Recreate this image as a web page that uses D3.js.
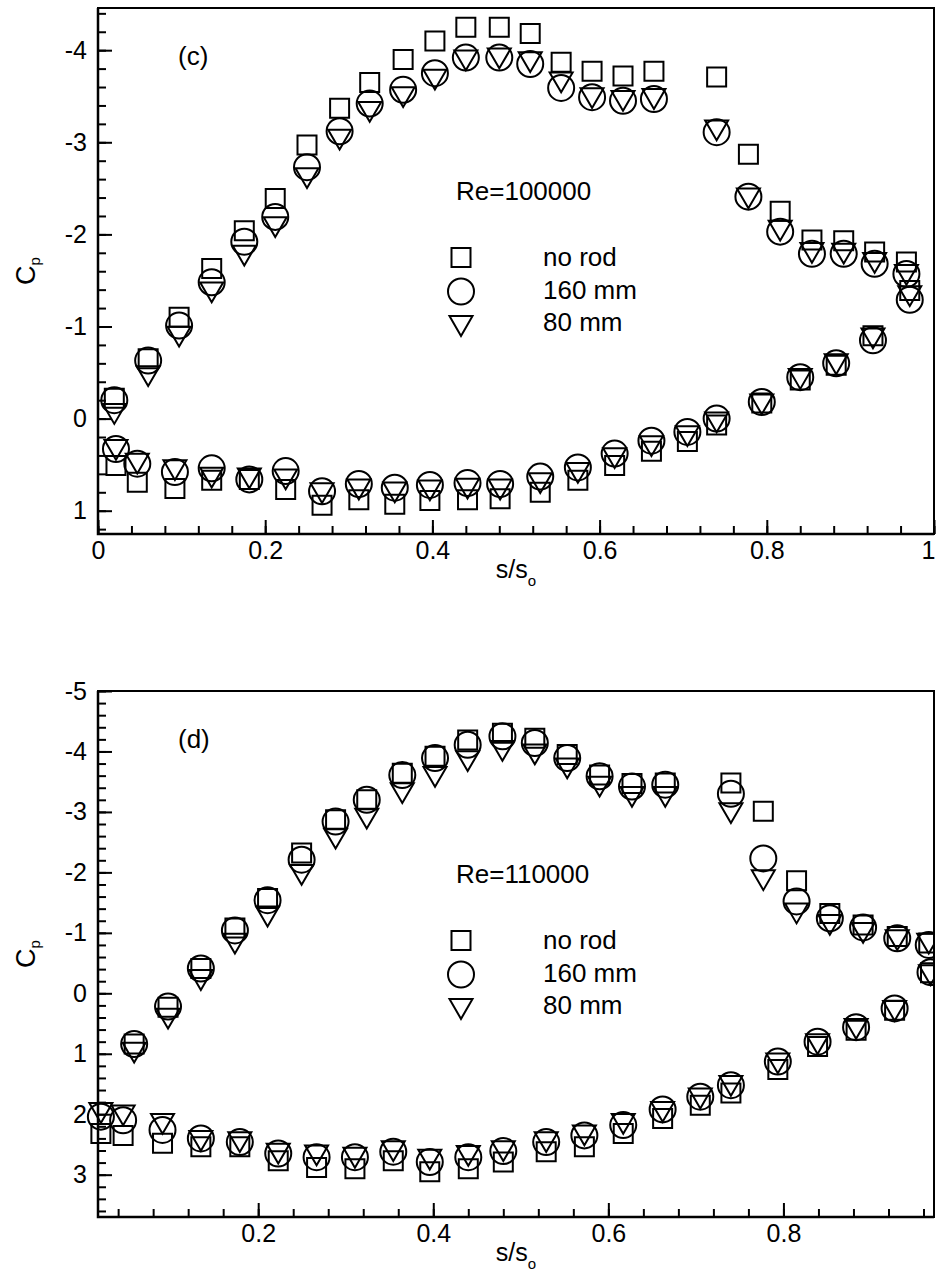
<!DOCTYPE html>
<html>
<head>
<meta charset="utf-8">
<script src="https://cdn.jsdelivr.net/npm/d3@7"></script>
<style>
  html, body { margin: 0; padding: 0; background: #fff; }
  svg { display: block; }
  text { font-family: "Liberation Sans", Arial, Helvetica, sans-serif; fill: #000; }
</style>
</head>
<body>
<svg id="chart" width="936" height="1272"></svg>
<script>
// ---------------- Panel (c): Re = 100000 ----------------
// tap positions s/so: suction side (leading edge -> trailing edge), then pressure side
const sC = [0.0195, 0.060, 0.097, 0.136, 0.175, 0.212, 0.250, 0.289, 0.325, 0.365, 0.403, 0.440, 0.480,
            0.517, 0.554, 0.591, 0.628, 0.665, 0.740, 0.778, 0.816, 0.854, 0.892, 0.929, 0.967, 0.971,
            0.0215, 0.047, 0.092, 0.136, 0.181, 0.2245, 0.268, 0.312, 0.355, 0.397, 0.442, 0.481,
            0.529, 0.574, 0.618, 0.662, 0.705, 0.740, 0.794, 0.840, 0.883, 0.927];
const cpNoRodC = [-0.22, -0.65, -1.10, -1.63, -2.04, -2.39, -2.97, -3.37, -3.65, -3.90, -4.10, -4.25, -4.25,
                  -4.18, -3.87, -3.77, -3.72, -3.77, -3.71, -2.87, -2.25, -1.94, -1.93, -1.81, -1.70, -1.39,
                  0.51, 0.69, 0.76, 0.67, 0.66, 0.77, 0.94, 0.88, 0.93, 0.89, 0.88, 0.87,
                  0.80, 0.67, 0.51, 0.355, 0.25, 0.07, -0.17, -0.42, -0.58, -0.90];
const cpRod160C = [-0.20, -0.63, -1.01, -1.48, -1.92, -2.19, -2.73, -3.12, -3.42, -3.57, -3.75, -3.92, -3.92,
                   -3.85, -3.59, -3.49, -3.45, -3.47, -3.11, -2.41, -2.03, -1.79, -1.79, -1.68, -1.57, -1.29,
                   0.33, 0.49, 0.58, 0.54, 0.66, 0.57, 0.79, 0.71, 0.75, 0.72, 0.70, 0.71,
                   0.63, 0.53, 0.38, 0.24, 0.145, 0.0, -0.18, -0.45, -0.60, -0.85];
const cpRod80C = [-0.05, -0.46, -0.89, -1.37, -1.77, -2.08, -2.61, -3.03, -3.33, -3.49, -3.68, -3.89, -3.91,
                  -3.87, -3.65, -3.48, -3.45, -3.47, -3.13, -2.39, -2.04, -1.80, -1.79, -1.69, -1.56, -1.33,
                  0.34, 0.49, 0.56, 0.64, 0.65, 0.66, 0.81, 0.77, 0.80, 0.78, 0.76, 0.77,
                  0.70, 0.59, 0.43, 0.30, 0.19, 0.04, -0.155, -0.43, -0.59, -0.87];

// ---------------- Panel (d): Re = 110000 ----------------
const sD = [0.0583, 0.097, 0.1345, 0.1734, 0.2107, 0.2496, 0.2884, 0.324, 0.3646, 0.402, 0.4393, 0.479,
            0.516, 0.553, 0.590, 0.627, 0.665, 0.740, 0.777, 0.815, 0.853, 0.891, 0.930, 0.966, 0.968,
            0.0203, 0.0457, 0.0907, 0.1345, 0.179, 0.2229, 0.2667, 0.3105, 0.3543, 0.396, 0.44, 0.48,
            0.529, 0.5726, 0.617, 0.662, 0.705, 0.740, 0.7936, 0.839, 0.883, 0.927];
const cpNoRodD = [0.84, 0.23, -0.41, -1.08, -1.57, -2.32, -2.87, -3.20, -3.64, -3.92, -4.19, -4.30,
                  -4.22, -3.95, -3.61, -3.47, -3.48, -3.48, -3.01, -1.86, -1.32, -1.13, -0.94, -0.83, -0.34,
                  2.32, 2.35, 2.48, 2.54, 2.54, 2.77, 2.88, 2.90, 2.77, 2.95, 2.90, 2.79,
                  2.62, 2.54, 2.32, 2.07, 1.85, 1.65, 1.26, 0.88, 0.61, 0.28];
const cpRod160D = [0.84, 0.22, -0.41, -1.04, -1.54, -2.21, -2.84, -3.20, -3.61, -3.89, -4.11, -4.25,
                   -4.14, -3.89, -3.59, -3.42, -3.45, -3.30, -2.23, -1.52, -1.24, -1.09, -0.91, -0.80, -0.35,
                   2.04, 2.10, 2.26, 2.40, 2.46, 2.65, 2.71, 2.71, 2.62, 2.79, 2.71, 2.61,
                   2.46, 2.35, 2.18, 1.92, 1.71, 1.52, 1.13, 0.80, 0.56, 0.25];
const cpRod80D = [0.98, 0.42, -0.22, -0.82, -1.27, -1.96, -2.56, -2.89, -3.31, -3.58, -3.84, -4.01,
                  -3.95, -3.72, -3.42, -3.25, -3.25, -2.98, -1.87, -1.32, -1.13, -1.00, -0.88, -0.82, -0.30,
                  1.98, 2.02, 2.16, 2.44, 2.46, 2.65, 2.68, 2.72, 2.61, 2.75, 2.69, 2.61,
                  2.46, 2.35, 2.16, 1.96, 1.74, 1.53, 1.16, 0.84, 0.59, 0.29];

// ---------------- axis ticks and labels ----------------
const xTicksC = [0, 0.2, 0.4, 0.6, 0.8, 1];
const xTickLabelsC = ["0", "0.2", "0.4", "0.6", "0.8", "1"];
const yTicksC = [-4, -3, -2, -1, 0, 1];
const yTickLabelsC = ["-4", "-3", "-2", "-1", "0", "1"];
const xTicksD = [0.2, 0.4, 0.6, 0.8];
const xTickLabelsD = ["0.2", "0.4", "0.6", "0.8"];
const yTicksD = [-5, -4, -3, -2, -1, 0, 1, 2, 3];
const yTickLabelsD = ["-5", "-4", "-3", "-2", "-1", "0", "1", "2", "3"];

const seriesNames = ["no rod", "160 mm", "80 mm"];

// ---------------- marker shapes (centred, hollow) ----------------
const symSquare = { draw(ctx, side) { const h = side / 2; ctx.rect(-h, -h, side, side); } };
const symCircle = { draw(ctx, r) { ctx.moveTo(r, 0); ctx.arc(0, 0, r, 0, 2 * Math.PI); } };
const symTriDown = { draw(ctx, w) { const hw = w / 2, hh = w * 0.43; ctx.moveTo(-hw, -hh); ctx.lineTo(hw, -hh); ctx.lineTo(0, hh); ctx.closePath(); } };

const markerStyles = [
  { type: symSquare, size: 19 },
  { type: symCircle, size: 13 },
  { type: symTriDown, size: 23 }
];

const svg = d3.select("#chart");
svg.append("rect").attr("width", 936).attr("height", 1272).attr("fill", "#fff");

const plotLeft = 98, plotWidth = 836, plotHeight = 526;

function drawPanel(p) {
  const g = svg.append("g").attr("transform", `translate(${plotLeft},${p.top})`);
  const x = d3.scaleLinear().domain(p.xDomain).range([0, plotWidth]);
  const y = d3.scaleLinear().domain(p.yDomain).range([0, plotHeight]);

  const clipId = "clip-" + p.id;
  g.append("clipPath").attr("id", clipId)
    .append("rect").attr("x", -60).attr("y", -60)
    .attr("width", plotWidth + 60).attr("height", plotHeight + 120);

  const styleAxis = sel => {
    sel.select(".domain").remove();
    sel.selectAll(".tick line").attr("stroke", "#000").attr("stroke-width", 2);
    sel.selectAll(".tick text").attr("font-size", 25).attr("fill", "#000")
      .attr("font-family", '"Liberation Sans", Arial, Helvetica, sans-serif');
  };

  // minor ticks
  g.append("g").call(d3.axisLeft(y).tickValues(p.yMinor).tickSize(-8).tickFormat("")).call(styleAxis);
  g.append("g").attr("transform", `translate(0,${plotHeight})`)
    .call(d3.axisBottom(x).tickValues(p.xMinor).tickSize(-8).tickFormat("")).call(styleAxis);

  // major ticks with labels
  g.append("g")
    .call(d3.axisLeft(y).tickValues(p.yTicks).tickSize(-14).tickPadding(11)
      .tickFormat((d, i) => p.yLabels[i]))
    .call(styleAxis);
  const xAxis = g.append("g").attr("transform", `translate(0,${plotHeight})`)
    .call(d3.axisBottom(x).tickValues(p.xTicks).tickSize(-14).tickPadding(7)
      .tickFormat((d, i) => p.xLabels[i]))
    .call(styleAxis);
  // keep a label sitting on the right frame edge inside the page
  xAxis.selectAll(".tick").filter(d => x(d) >= plotWidth - 1)
    .select("text").attr("text-anchor", "end").attr("x", 1);

  // frame
  g.append("rect").attr("width", plotWidth).attr("height", plotHeight)
    .attr("fill", "none").attr("stroke", "#000").attr("stroke-width", 2);
  g.append("path").attr("d", `M0,0V${plotHeight}H${plotWidth}`)
    .attr("fill", "none").attr("stroke", "#000").attr("stroke-width", 2.5);

  // data markers
  const marks = g.append("g").attr("clip-path", `url(#${clipId})`);
  p.series.forEach((cp, k) => {
    const st = markerStyles[k];
    const gen = d3.symbol().type(st.type).size(st.size);
    marks.append("g").selectAll("path")
      .data(d3.zip(p.s, cp))
      .join("path")
      .attr("transform", d => `translate(${x(d[0])},${y(d[1])})`)
      .attr("d", gen)
      .attr("fill", "none").attr("stroke", "#000").attr("stroke-width", 2);
  });

  // panel tag and Reynolds number
  g.append("text").attr("x", 80).attr("y", 57).attr("font-size", 26).text(p.tag);
  g.append("text").attr("x", 358).attr("y", 192).attr("font-size", 26).text(p.re);

  // legend
  const legY = [249.5, 283.5, 318];
  const legTextY = [258, 290.5, 323];
  seriesNames.forEach((name, k) => {
    const st = markerStyles[k];
    g.append("path")
      .attr("transform", `translate(363,${legY[k]})`)
      .attr("d", d3.symbol().type(st.type).size(st.size)())
      .attr("fill", "none").attr("stroke", "#000").attr("stroke-width", 2);
    g.append("text").attr("x", 445).attr("y", legTextY[k]).attr("font-size", 26).text(name);
  });

  // axis titles
  const xt = g.append("text").attr("x", plotWidth / 2).attr("y", plotHeight + 44)
    .attr("text-anchor", "middle").attr("font-size", 25);
  xt.append("tspan").text("s/s");
  xt.append("tspan").attr("font-size", 15).attr("dy", 8).text("o");

  const yt = g.append("text")
    .attr("transform", `translate(${35 - plotLeft},${plotHeight / 2}) rotate(-90)`)
    .attr("text-anchor", "middle").attr("font-size", 27);
  yt.append("tspan").text("C");
  yt.append("tspan").attr("font-size", 15).attr("dy", 5).text("p");
}

const round = v => Math.round(v * 1000) / 1000;

drawPanel({
  id: "c", top: 8,
  xDomain: [0, 1], yDomain: [-4.458, 1.253],
  xTicks: xTicksC, xLabels: xTickLabelsC,
  yTicks: yTicksC, yLabels: yTickLabelsC,
  xMinor: d3.range(0, 26).map(i => round(i * 0.04)),
  yMinor: d3.range(-22, 7).map(i => round(i * 0.2)),
  s: sC, series: [cpNoRodC, cpRod160C, cpRod80C],
  tag: "(c)", re: "Re=100000"
});

drawPanel({
  id: "d", top: 691,
  xDomain: [0.017, 0.972], yDomain: [-5, 3.7],
  xTicks: xTicksD, xLabels: xTickLabelsD,
  yTicks: yTicksD, yLabels: yTickLabelsD,
  xMinor: d3.range(1, 25).map(i => round(i * 0.04)),
  yMinor: d3.range(-25, 19).map(i => round(i * 0.2)),
  s: sD, series: [cpNoRodD, cpRod160D, cpRod80D],
  tag: "(d)", re: "Re=110000"
});
</script>
</body>
</html>
